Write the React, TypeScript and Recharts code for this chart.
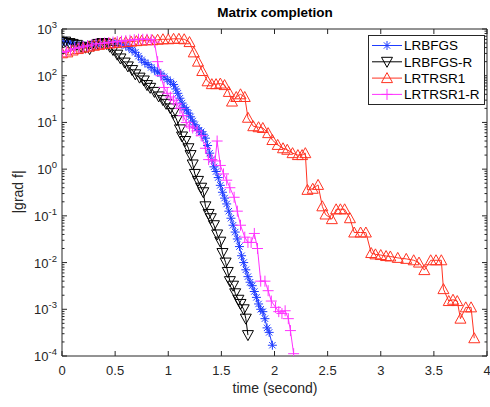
import { LineChart, Line, XAxis, YAxis, Legend } from 'recharts'

const FONT = '"Liberation Sans", Arial, Helvetica, sans-serif'
const AXIS = '#262626'

// LRBFGS (blue asterisks)
const lrbfgsTime = [
  0, 0.04, 0.08, 0.12, 0.16, 0.2, 0.24, 0.28, 0.32, 0.36, 0.4, 0.44, 0.48, 0.52, 0.56, 0.6,
  0.63, 0.66, 0.69, 0.72, 0.75, 0.78, 0.81, 0.84, 0.87, 0.9, 0.93, 0.96, 0.99, 1.02, 1.05,
  1.07, 1.09, 1.11, 1.13, 1.15, 1.17, 1.19, 1.21, 1.23, 1.25, 1.27, 1.29, 1.31, 1.33, 1.35,
  1.37, 1.39, 1.41, 1.43, 1.45, 1.47, 1.49, 1.51, 1.53, 1.55, 1.57, 1.59, 1.61, 1.63, 1.65,
  1.67, 1.69, 1.71, 1.73, 1.75, 1.77, 1.79, 1.81, 1.83, 1.85, 1.87, 1.89, 1.91, 1.93, 1.95, 1.98,
]
const lrbfgsGrad = [
  525, 550, 500, 479, 457, 447, 457, 468, 479, 490, 500, 513, 513, 500, 479, 437,
  398, 355, 316, 263, 219, 191, 174, 151, 132, 120, 110, 95, 83, 74, 65,
  52, 42, 33, 26, 21, 18.6, 15.8, 13.2, 10.7, 8.9, 7.6, 6.8, 6.3, 5.6, 4.6,
  3.2, 2.2, 1.6, 1.12, 0.89, 0.66, 0.45, 0.32, 0.24, 0.18, 0.126, 0.089, 0.063, 0.045, 0.032,
  0.022, 0.014, 0.01, 0.007, 0.005, 0.0038, 0.0032, 0.0024, 0.0018, 0.0013, 0.001, 0.00089, 0.00063, 0.0004, 0.00032, 0.00017,
]

// LRBFGS-R (black down triangles)
const lrbfgsRTime = [
  0, 0.03, 0.07, 0.1, 0.14, 0.18, 0.22, 0.26, 0.3, 0.34, 0.38, 0.42, 0.45, 0.48, 0.52, 0.55, 0.59, 0.62, 0.66, 0.69,
  0.73, 0.77, 0.8, 0.83, 0.87, 0.91, 0.95, 0.98, 1.02, 1.05, 1.08, 1.11, 1.13, 1.16, 1.19, 1.21, 1.23, 1.25, 1.28, 1.31,
  1.33, 1.35, 1.38, 1.4, 1.43, 1.46, 1.49, 1.51, 1.54, 1.56, 1.58, 1.61, 1.63, 1.66, 1.68, 1.71, 1.73, 1.75,
]
const lrbfgsRGrad = [
  525, 537, 500, 479, 457, 417, 398, 372, 437, 479, 500, 479, 417, 355, 282, 234, 191, 158, 132, 107,
  91, 79, 63, 55, 45, 36, 30, 25, 20, 16, 11.2, 7.1, 5.0, 4.0, 2.8, 2.0, 1.26, 0.79, 0.56, 0.4,
  0.32, 0.16, 0.11, 0.089, 0.063, 0.04, 0.028, 0.016, 0.01, 0.0063, 0.004, 0.0032, 0.0022, 0.0016, 0.0013, 0.001, 0.00063, 0.00028,
]

// LRTRSR1 (red up triangles)
const lrtrsr1Time = [
  0, 0.05, 0.1, 0.15, 0.2, 0.25, 0.3, 0.35, 0.4, 0.45, 0.5, 0.55, 0.6, 0.65, 0.7, 0.75, 0.8, 0.85, 0.9, 0.95,
  1.0, 1.05, 1.1, 1.15, 1.2, 1.24, 1.28, 1.32, 1.37, 1.41, 1.45, 1.49, 1.53, 1.57, 1.6, 1.64, 1.68, 1.72, 1.75, 1.8,
  1.85, 1.89, 1.94, 1.98, 2.03, 2.08, 2.12, 2.17, 2.22, 2.26, 2.29, 2.31, 2.36, 2.41, 2.45, 2.48, 2.54, 2.58, 2.62, 2.66,
  2.71, 2.75, 2.81, 2.86, 2.91, 2.95, 3.0, 3.05, 3.09, 3.16, 3.24, 3.31, 3.36, 3.41, 3.47, 3.52, 3.57, 3.59, 3.64, 3.68,
  3.72, 3.75, 3.8, 3.85, 3.88,
]
const lrtrsr1Grad = [
  302, 316, 347, 372, 398, 417, 437, 457, 479, 490, 500, 513, 525, 537, 550, 562, 575, 575, 589, 603,
  603, 617, 617, 603, 525, 316, 200, 126, 76, 66, 66, 68, 63, 45, 28, 35, 40, 35, 12.6, 8.3,
  7.9, 7.6, 5.9, 4.2, 3.3, 2.8, 2.6, 2.2, 2.0, 2.0, 2.2, 0.36, 0.38, 0.46, 0.16, 0.107, 0.085, 0.138, 0.138, 0.138,
  0.089, 0.044, 0.044, 0.044, 0.016, 0.015, 0.0145, 0.0138, 0.0135, 0.0126, 0.012, 0.0112, 0.01, 0.0069, 0.0112, 0.0112, 0.0112, 0.0027, 0.0015, 0.0016,
  0.0015, 0.00063, 0.0011, 0.0011, 0.00024,
]

// LRTRSR1-R (magenta plus)
const lrtrsr1RTime = [
  0, 0.04, 0.08, 0.12, 0.16, 0.2, 0.24, 0.28, 0.32, 0.36, 0.4, 0.44, 0.48, 0.52, 0.56, 0.6, 0.64, 0.68, 0.72, 0.76,
  0.8, 0.84, 0.87, 0.9, 0.93, 0.96, 0.99, 1.02, 1.05, 1.08, 1.11, 1.14, 1.17, 1.2, 1.23, 1.27, 1.31, 1.35, 1.38, 1.41,
  1.44, 1.46, 1.49, 1.52, 1.55, 1.58, 1.62, 1.65, 1.68, 1.72, 1.75, 1.78, 1.81, 1.84, 1.87, 1.91, 1.94, 1.97, 2.01, 2.04,
  2.07, 2.1, 2.13, 2.15, 2.18,
]
const lrtrsr1RGrad = [
  316, 331, 355, 380, 398, 417, 437, 457, 479, 490, 500, 513, 525, 537, 550, 562, 575, 589, 603, 603,
  603, 589, 525, 200, 100, 56, 42, 35, 30, 25, 20, 14, 10, 8.3, 7.6, 6.6, 5.2, 2.8, 1.6, 1.6,
  1.5, 4.0, 1.2, 0.79, 0.58, 0.4, 0.25, 0.126, 0.063, 0.035, 0.027, 0.027, 0.042, 0.02, 0.004, 0.004, 0.0025, 0.0015, 0.0011, 0.00089,
  0.00081, 0.00093, 0.00063, 0.00035, 0.000112,
]

const xTicks = [0, 0.5, 1, 1.5, 2, 2.5, 3, 3.5, 4]
const yMajorTicks = [1e-4, 1e-3, 1e-2, 1e-1, 1, 1e1, 1e2, 1e3]
const yMinorSteps = [2, 3, 4, 5, 6, 7, 8, 9]
const yTicks = [
  ...yMajorTicks,
  ...yMajorTicks.slice(0, -1).flatMap((m) => yMinorSteps.map((k) => k * m)),
]

const toRows = (time: number[], grad: number[]) => time.map((t, i) => ({ time: t, grad: grad[i] }))

const series = [
  { name: 'LRBFGS', color: '#1f3cff', shape: 'asterisk', data: toRows(lrbfgsTime, lrbfgsGrad) },
  { name: 'LRBFGS-R', color: '#000000', shape: 'down', data: toRows(lrbfgsRTime, lrbfgsRGrad) },
  { name: 'LRTRSR1', color: '#ff3322', shape: 'up', data: toRows(lrtrsr1Time, lrtrsr1Grad) },
  { name: 'LRTRSR1-R', color: '#ff33ff', shape: 'plus', data: toRows(lrtrsr1RTime, lrtrsr1RGrad) },
]

const isMajor = (v: number) => yMajorTicks.some((m) => Math.abs(v / m - 1) < 1e-9)

const Marker = ({ cx, cy, shape, color }: any) => {
  if (cx == null || cy == null) return null
  if (shape === 'asterisk') {
    const r = 4.5
    const d = r * 0.707
    return (
      <g stroke={color} strokeWidth={1} fill="none">
        <line x1={cx - r} y1={cy} x2={cx + r} y2={cy} />
        <line x1={cx} y1={cy - r} x2={cx} y2={cy + r} />
        <line x1={cx - d} y1={cy - d} x2={cx + d} y2={cy + d} />
        <line x1={cx - d} y1={cy + d} x2={cx + d} y2={cy - d} />
      </g>
    )
  }
  if (shape === 'plus') {
    const r = 5.5
    return (
      <g stroke={color} strokeWidth={1} fill="none">
        <line x1={cx - r} y1={cy} x2={cx + r} y2={cy} />
        <line x1={cx} y1={cy - r} x2={cx} y2={cy + r} />
      </g>
    )
  }
  const w = 5.5
  const pts =
    shape === 'up'
      ? `${cx},${cy - 5.5} ${cx + w},${cy + 4.5} ${cx - w},${cy + 4.5}`
      : `${cx},${cy + 5.5} ${cx + w},${cy - 4.5} ${cx - w},${cy - 4.5}`
  return <polygon points={pts} stroke={color} strokeWidth={1} fill="none" />
}

const LeftTick = ({ x, y, payload }: any) => {
  const v = payload.value
  const major = isMajor(v)
  return (
    <g>
      <line x1={x} x2={x + (major ? 5 : 2.5)} y1={y} y2={y} stroke={AXIS} />
      {major && (
        <text x={x - 5} y={y + 5} textAnchor="end" fontSize={13} fill={AXIS} fontFamily={FONT}>
          <tspan>10</tspan>
          <tspan dy={-6} fontSize={9.5}>{Math.round(Math.log10(v))}</tspan>
        </text>
      )}
    </g>
  )
}

const RightTick = ({ x, y, payload }: any) => {
  const major = isMajor(payload.value)
  return <line x1={x} x2={x - (major ? 5 : 2.5)} y1={y} y2={y} stroke={AXIS} />
}

const BottomTick = ({ x, y, payload }: any) => (
  <g>
    <line x1={x} x2={x} y1={y} y2={y - 5} stroke={AXIS} />
    <text x={x} y={y + 19} textAnchor="middle" fontSize={13} fill={AXIS} fontFamily={FONT}>
      {payload.value}
    </text>
  </g>
)

const TopTick = ({ x, y }: any) => <line x1={x} x2={x} y1={y} y2={y + 5} stroke={AXIS} />

const LegendBox = () => (
  <svg width={117} height={70} style={{ display: 'block' }}>
    <rect x={0.5} y={0.5} width={116} height={69} fill="#fff" stroke={AXIS} />
    {series.map((s, i) => {
      const cy = 10.5 + i * 16.3
      return (
        <g key={s.name}>
          <line x1={4} x2={34} y1={cy} y2={cy} stroke={s.color} />
          <Marker cx={19} cy={cy} shape={s.shape} color={s.color} />
          <text x={36} y={cy + 4.8} fontSize={13.5} fill="#000" fontFamily={FONT}>
            {s.name}
          </text>
        </g>
      )
    })}
  </svg>
)

export default function App() {
  return (
    <div style={{ position: 'absolute', left: 0, top: 0, width: 490, height: 407, background: '#fff', fontFamily: FONT }}>
      <div style={{ position: 'absolute', left: 275, top: 12, transform: 'translate(-50%, -50%)', fontSize: 13.5, fontWeight: 'bold', whiteSpace: 'nowrap', color: '#000' }}>
        Matrix completion
      </div>
      <div style={{ position: 'absolute', left: 275, top: 388, transform: 'translate(-50%, -50%)', fontSize: 14, whiteSpace: 'nowrap', color: AXIS }}>
        time (second)
      </div>
      <div style={{ position: 'absolute', left: 18, top: 192, transform: 'translate(-50%, -50%) rotate(-90deg)', fontSize: 14, whiteSpace: 'nowrap', color: AXIS }}>
        |grad f|
      </div>
      <LineChart width={490} height={407} margin={{ top: 28, right: 2, bottom: 21, left: 12 }}>
        <XAxis xAxisId="bottom" dataKey="time" type="number" domain={[0, 4]} ticks={xTicks} height={30} interval={0}
          tickSize={0} tickMargin={0} tickLine={false} tick={<BottomTick />} axisLine={{ stroke: AXIS }} allowDataOverflow />
        <XAxis xAxisId="top" orientation="top" dataKey="time" type="number" domain={[0, 4]} ticks={xTicks} height={1} interval={0}
          tickSize={0} tickMargin={0} tickLine={false} tick={<TopTick />} axisLine={{ stroke: AXIS }} allowDataOverflow />
        <YAxis yAxisId="left" type="number" scale="log" domain={[1e-4, 1e3]} ticks={yTicks} width={50} interval={0}
          tickSize={0} tickMargin={0} tickLine={false} tick={<LeftTick />} axisLine={{ stroke: AXIS }} allowDataOverflow />
        <YAxis yAxisId="right" orientation="right" type="number" scale="log" domain={[1e-4, 1e3]} ticks={yTicks} width={1} interval={0}
          tickSize={0} tickMargin={0} tickLine={false} tick={<RightTick />} axisLine={{ stroke: AXIS }} allowDataOverflow />
        <Legend layout="horizontal" verticalAlign="middle" align="center" content={<LegendBox />}
          wrapperStyle={{ position: 'absolute', left: 368, top: 35, width: 117, height: 70 }} />
        {series.map((s) => (
          <Line
            key={s.name}
            xAxisId="bottom"
            yAxisId="left"
            data={s.data}
            dataKey="grad"
            name={s.name}
            stroke={s.color}
            strokeWidth={1}
            isAnimationActive={false}
            dot={(p: any) => <Marker key={`${s.name}-${p.index}`} cx={p.cx} cy={p.cy} shape={s.shape} color={s.color} />}
            activeDot={false}
          />
        ))}
      </LineChart>
    </div>
  )
}
